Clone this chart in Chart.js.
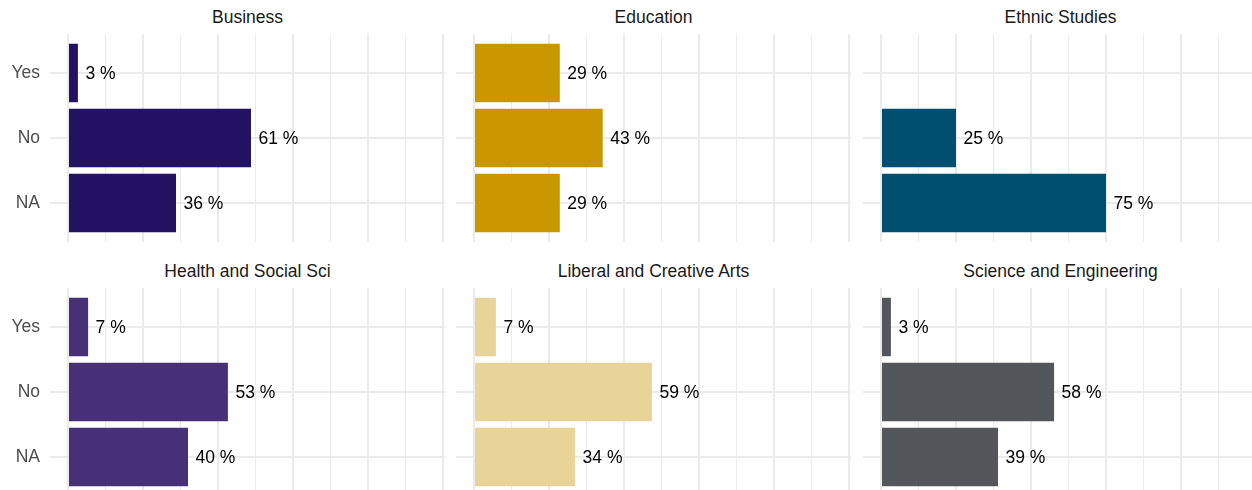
<!DOCTYPE html>
<html>
<head>
<meta charset="utf-8">
<script src="https://cdn.jsdelivr.net/npm/chart.js@4.4.1/dist/chart.umd.min.js"></script>
<style>
  body { margin: 0; width: 1252px; height: 490px; overflow: hidden; background: #fff; position: relative; font-family: "Liberation Sans", Arial, sans-serif; }
  canvas { position: absolute; }
  .titulo { position: absolute; width: 395px; text-align: center; font-size: 17.5px; line-height: 21px; color: #1a1a1a; white-space: nowrap; }
</style>
</head>
<body>
<script>
// Datos de cada facultad (porcentaje de respuestas)
const categorias = ['Yes', 'No', 'NA'];
const facultades = ['Business', 'Education', 'Ethnic Studies', 'Health and Social Sci', 'Liberal and Creative Arts', 'Science and Engineering'];
const business = [3.3, 61.0, 36.0];
const education = [28.6, 42.9, 28.6];
const ethnicStudies = [null, 25.0, 75.0];
const healthSocial = [6.7, 53.3, 40.0];
const liberalArts = [7.3, 59.3, 33.7];
const scienceEng = [3.3, 57.7, 39.0];
const lineasGuia = [0, 12.5, 25, 37.5, 50, 62.5, 75, 87.5, 100, 112.5, 125];

const valores = [business, education, ethnicStudies, healthSocial, liberalArts, scienceEng];
const colores = ['#231161', '#C99700', '#004F71', '#463077', '#E8D498', '#53565A'];

const fuente = '"Liberation Sans", Arial, sans-serif';
Chart.defaults.font.family = fuente;

// Etiquetas "xx %" al final de cada barra
const etiquetas = {
    id: 'etiquetas',
    afterDatasetsDraw(chart) {
        const ctx = chart.ctx;
        const datos = chart.data.datasets[0].data;
        ctx.save();
        ctx.font = `17.5px ${fuente}`;
        ctx.fillStyle = '#000';
        ctx.textAlign = 'left';
        ctx.textBaseline = 'middle';
        chart.getDatasetMeta(0).data.forEach((barra, j) => {
            ctx.fillText(`${Math.round(datos[j].x)} %`, barra.x + 7.5, barra.y + 1);
        });
        ctx.restore();
    }
};

facultades.forEach((nombre, i) => {
    const col = i % 3;
    const fila = Math.floor(i / 3);
    const izquierda = [0, 456, 863][col];
    const ancho = col === 0 ? 445 : 395;
    const arriba = [34, 288][fila];

    const titulo = document.createElement('div');
    titulo.className = 'titulo';
    titulo.textContent = nombre;
    titulo.style.left = (col === 0 ? 50 : izquierda) + 'px';
    titulo.style.top = [7, 261][fila] + 'px';
    document.body.appendChild(titulo);

    const lienzo = document.createElement('canvas');
    lienzo.width = ancho;
    lienzo.height = 208;
    lienzo.style.left = izquierda + 'px';
    lienzo.style.top = arriba + 'px';
    document.body.appendChild(lienzo);

    const puntos = valores[i]
        .map((v, j) => ({ x: v, y: j }))
        .filter(p => p.x !== null);

    new Chart(lienzo, {
        type: 'bar',
        data: {
            datasets: [{
                data: puntos,
                backgroundColor: colores[i],
                barPercentage: 0.9,
                categoryPercentage: 1
            }]
        },
        options: {
            indexAxis: 'y',
            responsive: false,
            animation: false,
            devicePixelRatio: 1,
            layout: { padding: 0, autoPadding: false },
            plugins: {
                legend: { display: false },
                tooltip: { enabled: false }
            },
            scales: {
                x: {
                    type: 'linear',
                    min: -6,
                    max: 125.67,
                    afterBuildTicks: escala => { escala.ticks = lineasGuia.map(v => ({ value: v })); },
                    afterFit: escala => { escala.height = 0; },
                    ticks: { display: false },
                    border: { display: false },
                    grid: {
                        color: '#EBEBEB',
                        drawTicks: false,
                        lineWidth: c => (c.tick && c.tick.value % 25 === 0) ? 2 : 1
                    }
                },
                y: {
                    type: 'linear',
                    reverse: true,
                    offset: false,
                    min: -0.6,
                    max: 2.6,
                    afterBuildTicks: escala => { escala.ticks = categorias.map((c, j) => ({ value: j })); },
                    afterFit: escala => {
                        escala.width = col === 0 ? 50 : 0;
                        // sin margen extra por las etiquetas: el panel ocupa todo el alto
                        escala.paddingTop = 0;
                        escala.paddingBottom = 0;
                        if (escala._margins) {
                            escala._margins.top = 0;
                            escala._margins.bottom = 0;
                        }
                    },
                    ticks: {
                        display: col === 0,
                        padding: 10,
                        color: '#4D4D4D',
                        font: { size: 17.5 },
                        callback: v => categorias[v]
                    },
                    border: { display: false },
                    grid: { color: '#EBEBEB', drawTicks: false, offset: false, lineWidth: 2 }
                }
            }
        },
        plugins: [etiquetas]
    });
});
</script>
</body>
</html>
